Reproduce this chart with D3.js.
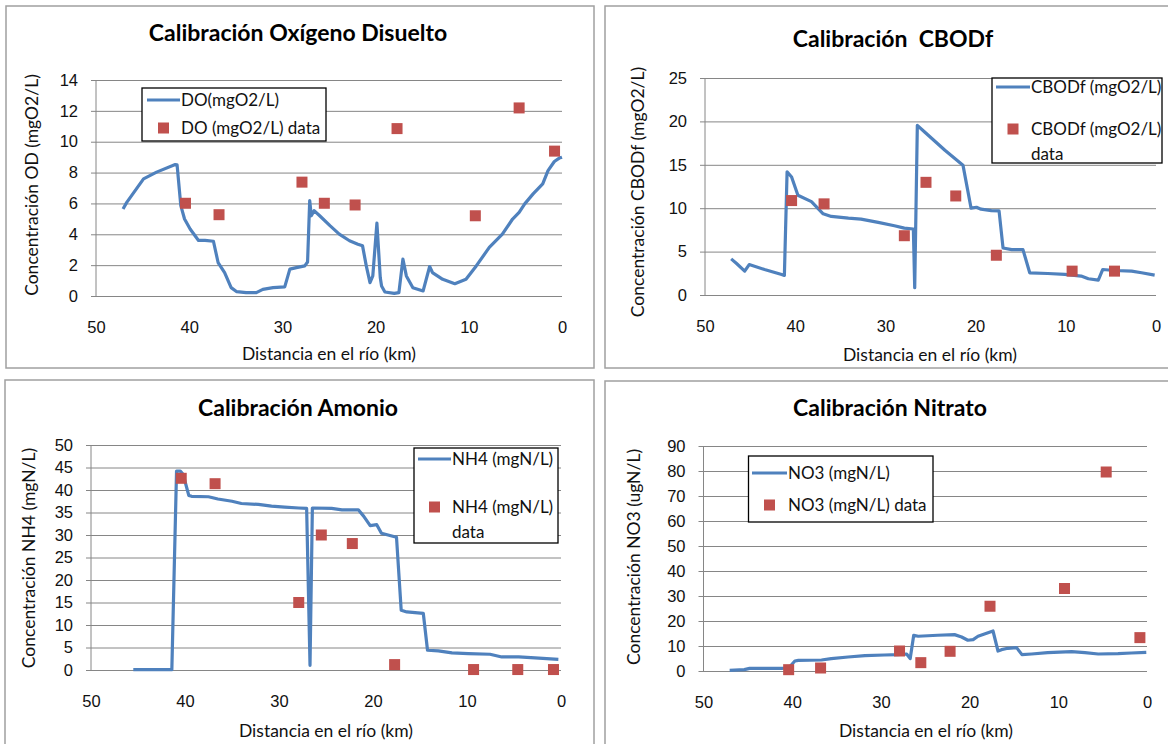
<!DOCTYPE html>
<html>
<head>
<meta charset="utf-8">
<script src="https://cdn.jsdelivr.net/npm/d3@7"></script>
<style>
  body { margin: 0; background: #fff; }
  svg { font-family: Lato, "Open Sans", sans-serif; }
</style>
</head>
<body>
<svg id="chart" width="1168" height="744"></svg>
<script>
// sampling sites, km from the mouth (x axis runs 50 -> 0)
const siteKm = [40.4, 36.8, 27.9, 25.5, 22.2, 17.7, 9.3, 4.6, 0.8];

// dissolved oxygen model profile
const doKm = [47.1, 46.7, 45.8, 44.9, 43.5, 41.5, 41.3, 40.9, 40.5, 39.9, 39.0, 38.3, 37.4, 36.9, 36.2, 35.5,
  34.9, 33.9, 32.8, 32.1, 31.0, 29.75, 29.2, 28.5, 27.6, 27.3, 27.07, 26.9, 26.6, 26.0, 24.9, 23.9, 22.8,
  21.9, 21.4, 21.0, 20.6, 20.3, 19.86, 19.5, 19.36, 19.0, 18.0, 17.5, 17.07, 16.7, 16.0, 14.9, 14.2, 13.9,
  12.8, 11.5, 10.3, 9.2, 7.8, 6.4, 5.3, 4.6, 4.0, 3.1, 2.07, 1.5, 0.82, 0.29, 0.0];
const doModel = [5.64, 6.07, 6.83, 7.59, 8.03, 8.52, 8.5, 5.86, 4.99, 4.34, 3.6, 3.6, 3.55, 2.17, 1.52, 0.54,
  0.28, 0.22, 0.22, 0.43, 0.54, 0.59, 1.74, 1.84, 1.95, 2.2, 6.18, 5.2, 5.53, 5.2, 4.56, 4.01, 3.58,
  3.36, 3.25, 1.95, 0.87, 1.3, 4.73, 1.2, 0.65, 0.26, 0.17, 0.22, 2.39, 1.3, 0.54, 0.33, 1.91, 1.52,
  1.08, 0.8, 1.08, 1.95, 3.15, 4.01, 4.99, 5.42, 5.97, 6.62, 7.27, 8.13, 8.72, 8.94, 9.0];
const doObs = [6.01, 5.27, 7.38, 6.01, 5.9, 10.85, 5.2, 12.19, 9.39];

// CBODf model profile
const cbodKm = [47.1, 46.5, 45.6, 45.1, 43.4, 41.5, 41.2, 40.9, 40.4, 39.7, 38.2, 36.9, 36.0, 34.1, 32.7,
  30.8, 29.0, 27.9, 26.9, 26.75, 26.46, 25.65, 23.4, 21.4, 20.5, 19.9, 19.4, 18.26, 17.4, 16.96, 16.0,
  14.75, 14.0, 12.0, 10.1, 8.3, 7.5, 6.4, 5.9, 4.6, 2.7, 1.6, 0.15];
const cbodModel = [4.16, 3.63, 2.75, 3.51, 2.94, 2.37, 2.25, 14.2, 13.6, 11.5, 10.76, 9.35, 9.05, 8.85, 8.74,
  8.36, 7.98, 7.71, 7.6, 0.84, 19.54, 18.78, 16.68, 14.96, 10.0, 10.11, 9.89, 9.73, 9.69, 5.42, 5.23,
  5.23, 2.56, 2.48, 2.37, 2.18, 1.87, 1.72, 2.94, 2.82, 2.75, 2.56, 2.29];
const cbodObs = [10.88, 10.5, 6.83, 12.98, 11.41, 4.58, 2.75, 2.75];

// ammonium model profile
const nh4Km = [45.5, 41.4, 40.9, 40.5, 40.2, 39.6, 39.3, 37.5, 36.5, 35.0, 34.0, 32.2, 30.8, 29.4, 27.9,
  27.06, 26.7, 26.45, 24.4, 23.3, 21.56, 21.0, 20.3, 19.6, 19.1, 17.5, 17.0, 16.4, 14.65, 14.2, 13.05,
  11.6, 9.86, 7.55, 6.3, 4.5, 2.77, 0.28];
const nh4Model = [0.07, 0.07, 44.2, 44.2, 43.5, 38.8, 38.6, 38.5, 38.0, 37.5, 37.0, 36.8, 36.4, 36.2, 36.0,
  35.9, 1.04, 36.0, 35.9, 35.6, 35.6, 34.2, 32.1, 32.3, 30.4, 29.5, 13.3, 12.9, 12.6, 4.39, 4.24,
  3.79, 3.65, 3.5, 2.9, 2.9, 2.68, 2.38];
const nh4Obs = [42.6, 41.4, 15.0, 30.0, 28.1, 1.2, 0.1, 0.1, 0.1];

// nitrate model profile
const no3Km = [47.05, 45.4, 44.8, 41.2, 40.4, 39.7, 39.3, 36.7, 35.6, 33.7, 31.8, 29.6, 28.1, 27.1, 26.7,
  26.3, 25.8, 23.6, 21.7, 20.9, 20.2, 19.6, 19.05, 17.36, 16.8, 16.4, 15.7, 14.7, 14.1, 13.0, 11.2,
  8.5, 7.0, 5.5, 3.27, 1.77, 0.08];
const no3Model = [0.27, 0.53, 1.07, 1.07, 1.2, 4.0, 4.27, 4.4, 4.94, 5.6, 6.14, 6.4, 6.54, 6.8, 4.94,
  14.3, 13.9, 14.3, 14.55, 13.6, 12.3, 12.55, 13.9, 16.0, 8.0, 8.54, 9.08, 9.35, 6.54, 6.8, 7.34,
  7.74, 7.34, 6.8, 6.94, 7.2, 7.48];
const no3Obs = [0.53, 1.2, 8.0, 3.34, 7.88, 25.9, 33.0, 79.6, 13.35];

const xTicks = [50, 40, 30, 20, 10, 0];
const xTitle = "Distancia en el río (km)";

const blue = "#4f81bd", red = "#c0504d", grid = "#868686", ink = "#111";

const panels = [
  { title: "Calibración Oxígeno Disuelto", yTitle: "Concentración OD (mgO2/L)",
    km: doKm, model: doModel, obs: doObs, yMax: 14, yStep: 2,
    lineLabel: ["DO(mgO2/L)"], dataLabel: ["DO (mgO2/L) data"],
    frame: [6, 6, 588, 362], plot: { l: 96, r: 562, t: 80, b: 296 },
    titleXY: [298, 33], yTitleXY: [32, 185], xTitleXY: [329, 354],
    legend: { x: 142, y: 88, w: 184, h: 53, lineY: 100, markY: 128, lx0: 147, tx: 180 } },
  { title: "Calibración  CBODf", yTitle: "Concentración CBODf (mgO2/L)",
    km: cbodKm, model: cbodModel, obs: cbodObs, yMax: 25, yStep: 5,
    lineLabel: ["CBODf (mgO2/L)"], dataLabel: ["CBODf (mgO2/L)", "data"],
    frame: [605, 6, 580, 362], plot: { l: 705, r: 1156, t: 78, b: 295 },
    titleXY: [893, 39], yTitleXY: [638, 192], xTitleXY: [930, 355],
    legend: { x: 992, y: 78, w: 170, h: 85, lineY: 87, markY: 129, lx0: 996, tx: 1030 } },
  { title: "Calibración Amonio", yTitle: "Concentración NH4 (mgN/L)",
    km: nh4Km, model: nh4Model, obs: nh4Obs, yMax: 50, yStep: 5,
    lineLabel: ["NH4 (mgN/L)"], dataLabel: ["NH4 (mgN/L)", "data"],
    frame: [5, 380, 589, 380], plot: { l: 91, r: 561, t: 445, b: 670 },
    titleXY: [298, 408], yTitleXY: [29, 558], xTitleXY: [326, 731],
    legend: { x: 414, y: 448, w: 144, h: 95, lineY: 459, markY: 507, lx0: 418, tx: 451 } },
  { title: "Calibración Nitrato", yTitle: "Concentración NO3 (ugN/L)",
    km: no3Km, model: no3Model, obs: no3Obs, yMax: 90, yStep: 10,
    lineLabel: ["NO3 (mgN/L)"], dataLabel: ["NO3 (mgN/L) data"],
    frame: [605, 381, 580, 380], plot: { l: 703.5, r: 1147, t: 446, b: 671 },
    titleXY: [890, 408], yTitleXY: [634, 557], xTitleXY: [926, 731],
    legend: { x: 748.5, y: 456, w: 184.5, h: 66, lineY: 473, markY: 505, lx0: 752, tx: 787 } }
];

const svg = d3.select("#chart");

panels.forEach(function(p) {
  const g = svg.append("g");
  const w = p.plot.r - p.plot.l;

  const x = d3.scaleLinear().domain([50, 0]).range([p.plot.l, p.plot.r]);
  const y = d3.scaleLinear().domain([0, p.yMax]).range([p.plot.b, p.plot.t]);

  // chart frame
  g.append("rect")
    .attr("x", p.frame[0]).attr("y", p.frame[1])
    .attr("width", p.frame[2]).attr("height", p.frame[3])
    .attr("fill", "none").attr("stroke", "#a0a0a0").attr("stroke-width", 1.5);

  // horizontal gridlines + y labels
  const yAxis = g.append("g")
    .attr("transform", "translate(" + p.plot.l + ",0)")
    .call(d3.axisLeft(y)
      .tickValues(d3.range(0, p.yMax + p.yStep / 2, p.yStep))
      .tickSize(-w).tickPadding(18));
  yAxis.select(".domain").remove();
  yAxis.selectAll(".tick line").attr("x1", -5).attr("stroke", grid);
  yAxis.selectAll(".tick text").attr("font-size", 16.5).attr("fill", ink);

  // vertical axis line
  g.append("line")
    .attr("x1", p.plot.l).attr("x2", p.plot.l)
    .attr("y1", p.plot.t).attr("y2", p.plot.b)
    .attr("stroke", grid);

  // x labels
  const xAxis = g.append("g")
    .attr("transform", "translate(0," + p.plot.b + ")")
    .call(d3.axisBottom(x).tickValues(xTicks).tickSize(0).tickPadding(25));
  xAxis.select(".domain").remove();
  xAxis.selectAll(".tick text").attr("font-size", 16.5).attr("fill", ink);

  // model line
  const line = d3.line()
    .x(function(d, i) { return x(p.km[i]); })
    .y(function(d) { return y(d); });
  g.append("path")
    .datum(p.model)
    .attr("d", line)
    .attr("fill", "none").attr("stroke", blue)
    .attr("stroke-width", 3.2).attr("stroke-linejoin", "round");

  // observed data
  g.selectAll(".obs")
    .data(p.obs)
    .enter().append("rect")
      .attr("class", "obs")
      .attr("x", function(d, i) { return x(siteKm[i]) - 5.5; })
      .attr("y", function(d) { return y(d) - 5.5; })
      .attr("width", 11).attr("height", 11)
      .attr("fill", red);

  // titles
  g.append("text")
    .attr("x", p.titleXY[0]).attr("y", p.titleXY[1])
    .attr("text-anchor", "middle").attr("dy", "0.35em")
    .attr("font-size", 23).attr("font-weight", "bold")
    .style("white-space", "pre")
    .text(p.title);
  g.append("text")
    .attr("x", p.xTitleXY[0]).attr("y", p.xTitleXY[1])
    .attr("text-anchor", "middle").attr("dy", "0.35em")
    .attr("font-size", 17.5).attr("fill", ink)
    .text(xTitle);
  g.append("text")
    .attr("transform", "translate(" + p.yTitleXY[0] + "," + p.yTitleXY[1] + ") rotate(-90)")
    .attr("text-anchor", "middle").attr("dy", "0.35em")
    .attr("font-size", 17.5).attr("fill", ink)
    .text(p.yTitle);

  // legend
  const L = p.legend;
  g.append("rect")
    .attr("x", L.x).attr("y", L.y).attr("width", L.w).attr("height", L.h)
    .attr("fill", "#fff").attr("stroke", "#000").attr("stroke-width", 1.3);
  g.append("line")
    .attr("x1", L.lx0).attr("x2", L.tx).attr("y1", L.lineY).attr("y2", L.lineY)
    .attr("stroke", blue).attr("stroke-width", 3.2);
  g.append("rect")
    .attr("x", (L.lx0 + L.tx) / 2 - 5.5).attr("y", L.markY - 5.5)
    .attr("width", 11).attr("height", 11).attr("fill", red);
  p.lineLabel.forEach(function(t, i) {
    g.append("text").attr("x", L.tx + 1).attr("y", L.lineY + i * 25)
      .attr("dy", "0.35em").attr("font-size", 17).attr("fill", ink).text(t);
  });
  p.dataLabel.forEach(function(t, i) {
    g.append("text").attr("x", L.tx + 1).attr("y", L.markY + i * 25)
      .attr("dy", "0.35em").attr("font-size", 17).attr("fill", ink).text(t);
  });
});
</script>
</body>
</html>
